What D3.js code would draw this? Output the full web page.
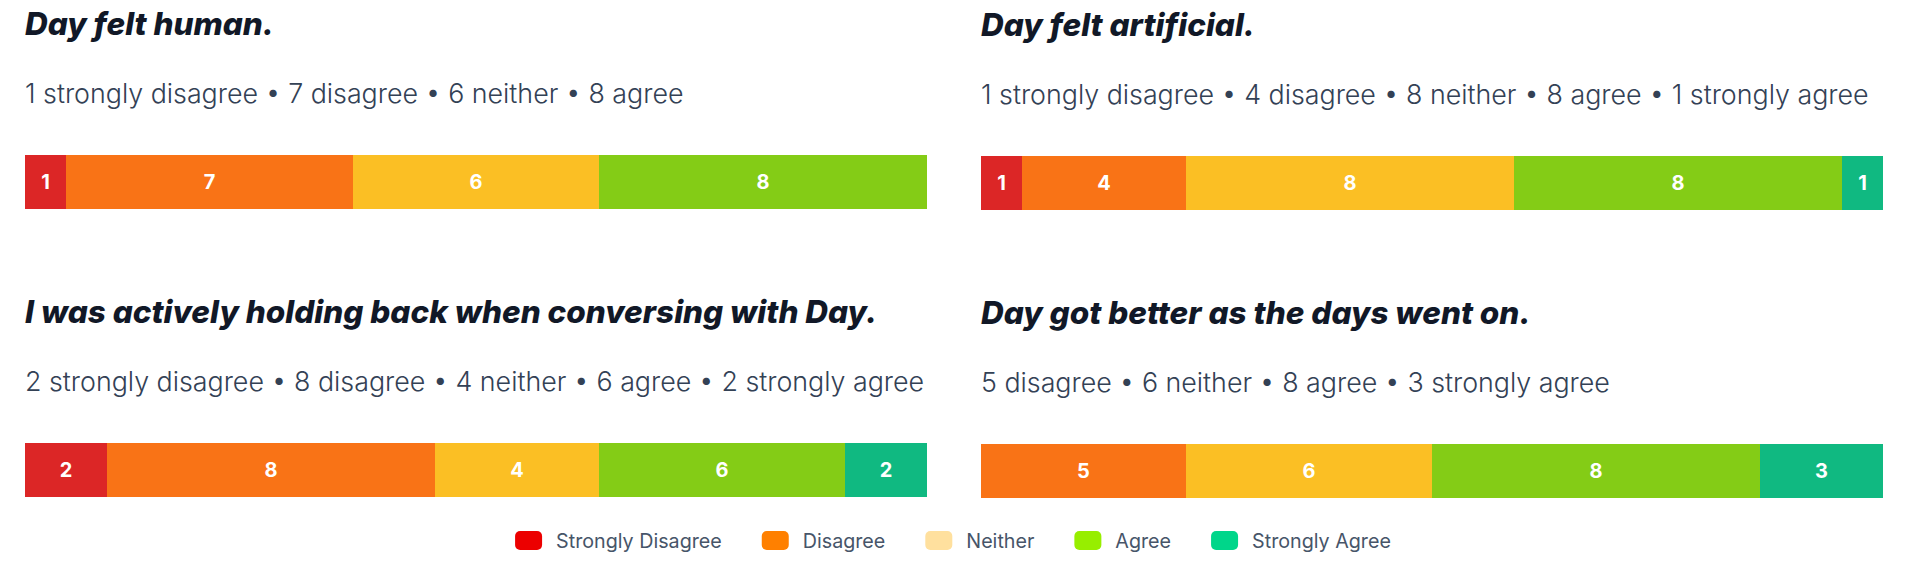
<!DOCTYPE html>
<html>
<head>
<meta charset="utf-8">
<script src="https://cdn.jsdelivr.net/npm/d3@7"></script>
<style>
  body { margin: 0; background: #fff; }
  svg { display: block; }
</style>
</head>
<body>
<div id="content"></div>
<script>
var questions = [
  "Day felt human.",
  "Day felt artificial.",
  "I was actively holding back when conversing with Day.",
  "Day got better as the days went on."
];

var levels = ["strongly disagree", "disagree", "neither", "agree", "strongly agree"];
var legendLabels = ["Strongly Disagree", "Disagree", "Neither", "Agree", "Strongly Agree"];

// counts per question, in the order of levels
var humanCounts = [1, 7, 6, 8, 0];
var artificialCounts = [1, 4, 8, 8, 1];
var holdingBackCounts = [2, 8, 4, 6, 2];
var betterCounts = [0, 5, 6, 8, 3];

var barColors = ["#dc2626", "#f97316", "#fbbf24", "#84cc16", "#10b981"];
var legendColors = ["#ec0000", "#ff8000", "#ffe09e", "#97ee00", "#00d68a"];

var allCounts = [humanCounts, artificialCounts, holdingBackCounts, betterCounts];

var W = 1906, H = 574;
var colX = [25, 981];
var colW = 902;
var rowY = [0, 288];

var svg = d3.select("#content").append("svg")
  .attr("width", W).attr("height", H);

var color = d3.scaleOrdinal().domain(levels).range(barColors);

questions.forEach(function (q, i) {
  var counts = allCounts[i];
  var g = svg.append("g")
    .attr("transform", "translate(" + colX[i % 2] + "," + (rowY[Math.floor(i / 2)] + (i % 2)) + ")");

  g.append("text")
    .attr("x", 0).attr("y", 35)
    .style("font-family", "Inter, sans-serif")
    .style("font-weight", 800)
    .style("font-style", "italic")
    .style("font-size", "31.5px")
    .style("fill", "#111827")
    .text(q);

  var parts = [];
  counts.forEach(function (c, j) {
    if (c > 0) parts.push(c + " " + levels[j]);
  });
  g.append("text")
    .attr("x", 0).attr("y", 103)
    .style("font-family", "Inter, sans-serif")
    .style("font-weight", 300)
    .style("font-size", "26.8px")
    .style("fill", "#334155")
    .text(parts.join(" \u2022 "));

  var total = d3.sum(counts);
  var x = d3.scaleLinear().domain([0, total]).range([0, colW]);
  var ends = d3.cumsum(counts);
  var segs = counts.map(function (c, j) {
    return { level: levels[j], value: c, x0: ends[j] - c, x1: ends[j] };
  }).filter(function (d) { return d.value > 0; });

  var barTop = 155, barH = 54;
  var seg = g.selectAll("g.seg")
    .data(segs)
    .enter().append("g")
    .attr("class", "seg");

  seg.append("rect")
    .attr("x", function (d) { return x(d.x0); })
    .attr("y", barTop)
    .attr("width", function (d) { return x(d.x1) - x(d.x0); })
    .attr("height", barH)
    .style("fill", function (d) { return color(d.level); });

  seg.append("text")
    .attr("x", function (d) { return (x(d.x0) + x(d.x1)) / 2; })
    .attr("y", barTop + barH / 2)
    .attr("dy", "0.36em")
    .attr("text-anchor", "middle")
    .style("font-family", "Inter, sans-serif")
    .style("font-weight", 700)
    .style("font-size", "20px")
    .style("fill", "#fff")
    .text(function (d) { return d.value; });
});

// legend
var legend = svg.append("g").attr("class", "legend");
var swW = 27, swH = 19, swGap = 14, itemGap = 40;
var items = legend.selectAll("g.item")
  .data(legendLabels)
  .enter().append("g")
  .attr("class", "item");

items.append("rect")
  .attr("width", swW).attr("height", swH)
  .attr("rx", 5).attr("ry", 5)
  .attr("y", 531)
  .style("fill", function (d, i) { return legendColors[i]; });

items.append("text")
  .attr("x", swW + swGap)
  .attr("y", 548)
  .style("font-family", "Inter, sans-serif")
  .style("font-size", "19.7px")
  .style("fill", "#475569")
  .text(function (d) { return d; });

var offs = [], cur = 0;
items.each(function () {
  offs.push(cur);
  cur += swW + swGap + d3.select(this).select("text").node().getComputedTextLength() + itemGap;
});
var legendW = cur - itemGap;
var start = (W - legendW) / 2;
items.attr("transform", function (d, i) { return "translate(" + (start + offs[i]) + ",0)"; });
</script>
</body>
</html>
